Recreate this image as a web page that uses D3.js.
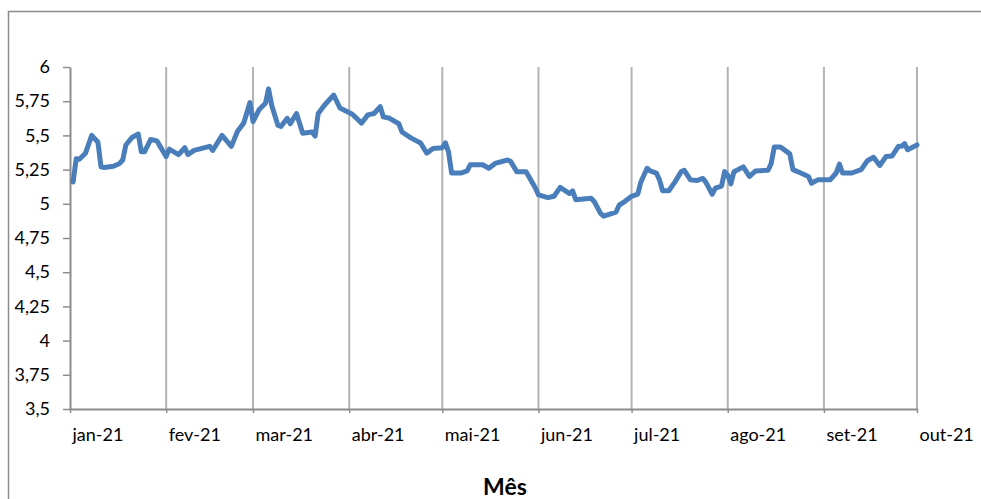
<!DOCTYPE html>
<html><head><meta charset="utf-8">
<script src="https://cdn.jsdelivr.net/npm/d3@7"></script>
<style>html,body{margin:0;padding:0;background:#fff;}svg{display:block;}</style>
</head><body>
<svg id="chart" width="981" height="499"></svg>
<script>
const dates = ["2021-01-02","2021-01-03","2021-01-04","2021-01-06","2021-01-08","2021-01-10","2021-01-11","2021-01-12","2021-01-15","2021-01-17","2021-01-18","2021-01-19","2021-01-21","2021-01-23","2021-01-24","2021-01-25","2021-01-27","2021-01-29",
"2021-02-01","2021-02-02","2021-02-05","2021-02-07","2021-02-08","2021-02-10","2021-02-15","2021-02-16","2021-02-19","2021-02-22","2021-02-24","2021-02-26","2021-02-28",
"2021-03-01","2021-03-03","2021-03-05","2021-03-06","2021-03-07","2021-03-09","2021-03-10","2021-03-12","2021-03-13","2021-03-15","2021-03-17","2021-03-20","2021-03-21","2021-03-22","2021-03-24","2021-03-27","2021-03-29",
"2021-04-02","2021-04-05","2021-04-07","2021-04-09","2021-04-11","2021-04-12","2021-04-14","2021-04-17","2021-04-18","2021-04-21","2021-04-24","2021-04-26","2021-04-28",
"2021-05-01","2021-05-02","2021-05-03","2021-05-04","2021-05-07","2021-05-09","2021-05-10","2021-05-14","2021-05-16","2021-05-18","2021-05-22","2021-05-23","2021-05-25","2021-05-28","2021-05-31",
"2021-06-01","2021-06-04","2021-06-06","2021-06-08","2021-06-11","2021-06-12","2021-06-13","2021-06-18","2021-06-19","2021-06-21","2021-06-22","2021-06-26","2021-06-27","2021-06-29",
"2021-07-01","2021-07-03","2021-07-04","2021-07-06","2021-07-07","2021-07-09","2021-07-10","2021-07-11","2021-07-13","2021-07-15","2021-07-17","2021-07-18","2021-07-20","2021-07-22","2021-07-24","2021-07-25","2021-07-27","2021-07-28","2021-07-30","2021-07-31",
"2021-08-01","2021-08-02","2021-08-03","2021-08-06","2021-08-08","2021-08-10","2021-08-14","2021-08-15","2021-08-16","2021-08-18","2021-08-21","2021-08-22","2021-08-24","2021-08-27","2021-08-28","2021-08-30",
"2021-09-03","2021-09-05","2021-09-06","2021-09-07","2021-09-10","2021-09-13","2021-09-15","2021-09-17","2021-09-19","2021-09-21","2021-09-23","2021-09-25","2021-09-26","2021-09-27","2021-09-28","2021-10-01"];
const values = [5.16,5.33,5.325,5.37,5.50,5.45,5.27,5.265,5.275,5.295,5.32,5.43,5.485,5.51,5.38,5.38,5.47,5.46,
5.345,5.40,5.36,5.41,5.36,5.39,5.42,5.39,5.50,5.42,5.53,5.59,5.74,
5.60,5.69,5.735,5.84,5.72,5.575,5.565,5.625,5.585,5.66,5.515,5.525,5.495,5.66,5.72,5.795,5.70,
5.655,5.59,5.65,5.66,5.71,5.635,5.625,5.585,5.525,5.48,5.445,5.37,5.405,
5.41,5.445,5.38,5.225,5.225,5.24,5.285,5.285,5.26,5.295,5.32,5.31,5.235,5.235,5.115,
5.065,5.045,5.055,5.12,5.075,5.095,5.03,5.04,5.015,4.93,4.91,4.94,4.99,5.02,
5.055,5.07,5.16,5.26,5.24,5.225,5.175,5.095,5.095,5.16,5.235,5.245,5.175,5.17,5.185,5.155,5.07,5.115,5.13,5.235,
5.21,5.145,5.235,5.27,5.20,5.24,5.245,5.295,5.415,5.415,5.365,5.25,5.23,5.20,5.15,5.175,
5.175,5.227,5.29,5.225,5.225,5.25,5.315,5.34,5.28,5.345,5.35,5.42,5.42,5.44,5.395,5.43];
const monthStarts = ["2021-01-01","2021-02-01","2021-03-01","2021-04-01","2021-05-01","2021-06-01","2021-07-01","2021-08-01","2021-09-01","2021-10-01"];
const monthLabels = ["jan-21","fev-21","mar-21","abr-21","mai-21","jun-21","jul-21","ago-21","set-21","out-21"];
const yTicks = [3.5,3.75,4,4.25,4.5,4.75,5,5.25,5.5,5.75,6];
const yTickLabels = ["3,5","3,75","4","4,25","4,5","4,75","5","5,25","5,5","5,75","6"];
const xTitle = "Mês";

const parse = d3.timeParse("%Y-%m-%d");
const data = dates.map((d,i)=>({date:parse(d), value:values[i]}));
const months = monthStarts.map(parse);

const svg = d3.select("#chart");
const font = "Lato, 'Open Sans', sans-serif";

// outer frame
svg.append("path").attr("d","M8.5,499 L8.5,11.5 L981,11.5")
  .attr("fill","none").attr("stroke","#8c8c8c").attr("stroke-width",1.5);

const x = d3.scaleTime().domain([months[0], months[months.length-1]]).range([70, 917]);
const y = d3.scaleLinear().domain([3.5, 6]).range([409, 67]);

// vertical gridlines
svg.append("g").selectAll("line").data(months.slice(1)).join("line")
  .attr("x1",d=>x(d)).attr("x2",d=>x(d)).attr("y1",y(6)).attr("y2",y(3.5))
  .attr("stroke","#b3b3b3").attr("stroke-width",2);

// y axis
const yAxis = d3.axisLeft(y).tickValues(yTicks).tickSize(7).tickSizeOuter(0)
  .tickFormat((d,i)=>yTickLabels[i]).tickPadding(13);
const gy = svg.append("g").attr("transform","translate(70,0)").call(yAxis);
gy.select(".domain").attr("stroke","#8c8c8c").attr("stroke-width",2);
gy.selectAll(".tick line").attr("stroke","#8c8c8c").attr("stroke-width",1.5);
gy.selectAll(".tick text").attr("font-family",font).attr("font-size",18).attr("fill","#000");

// x axis
const xAxis = d3.axisBottom(x).tickValues(months).tickSize(4).tickSizeOuter(0)
  .tickFormat((d,i)=>monthLabels[i]);
const gx = svg.append("g").attr("transform","translate(0,409)").call(xAxis);
gx.select(".domain").attr("stroke","#8c8c8c").attr("stroke-width",2);
gx.selectAll(".tick line").attr("stroke","#8c8c8c").attr("stroke-width",1.5);
gx.selectAll(".tick text").attr("font-family",font).attr("font-size",18).attr("fill","#000")
  .attr("text-anchor","start").attr("x",2).attr("y",19).attr("dy","0.71em");

// line
const line = d3.line().x(d=>x(d.date)).y(d=>y(d.value));
svg.append("path").datum(data).attr("d",line)
  .attr("fill","none").attr("stroke","#4a7ebb").attr("stroke-width",5)
  .attr("stroke-linejoin","round").attr("stroke-linecap","round");

// axis title
svg.append("text").attr("x",505).attr("y",495).attr("text-anchor","middle")
  .attr("font-family",font).attr("font-weight","bold").attr("font-size",23).attr("fill","#000")
  .text(xTitle);
</script>
</body></html>
